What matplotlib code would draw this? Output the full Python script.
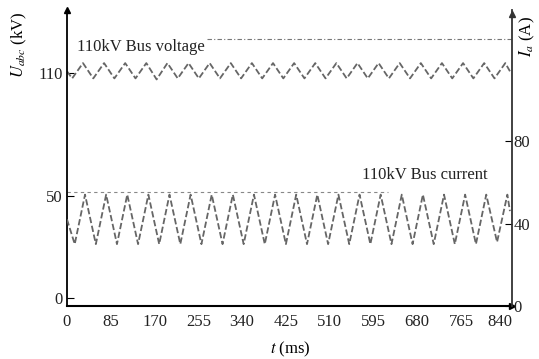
import numpy as np
import matplotlib
matplotlib.use('Agg')
from matplotlib import pyplot as plt

plt.rcParams['font.family'] = ['Liberation Serif', 'DejaVu Serif']
plt.rcParams['mathtext.fontset'] = 'stix'
plt.rcParams['font.size'] = 12

# voltage (kV) - peaks and troughs
t_volt = [0, 10, 31, 51, 72, 92, 113, 133, 154, 174, 195, 215, 236, 256, 277, 297,
          318, 338, 359, 379, 400, 420, 441, 461, 482, 502, 523, 543, 564, 584, 605,
          625, 646, 666, 687, 707, 728, 748, 769, 789, 810, 830, 851, 860]
u_volt = [111, 107.5, 115, 107.5, 115, 107.5, 115, 107.5, 115, 107, 115, 107.5, 115,
          107.5, 115, 107.5, 115, 107.5, 115, 107.5, 115, 107.5, 115, 107.5, 115, 107.5,
          115, 107.5, 115, 107.5, 115, 107.5, 115, 107.5, 115, 107.5, 115, 107.5, 115,
          107.5, 115, 107.5, 115, 111]

# current (A)
t_curr = [0, 15, 35, 56, 76, 97, 117, 138, 158, 179, 199, 220, 240, 261, 281, 302,
          322, 343, 363, 384, 404, 425, 445, 466, 486, 507, 527, 548, 568, 589, 609,
          630, 650, 671, 691, 712, 732, 753, 773, 794, 814, 835, 855, 860]
i_curr = [42, 30, 54, 30, 54, 30, 54, 30, 54, 30, 54, 30, 54, 30, 54, 30,
          54, 30, 54, 30, 54, 30, 54, 30, 54, 30, 54, 30, 54, 30, 54,
          30, 54, 30, 54, 30, 54, 30, 54, 30, 54, 31, 54, 46]

x_ticks = [0, 85, 170, 255, 340, 425, 510, 595, 680, 765, 840]
left_ticks = [0, 50, 110]
right_ticks = [0, 40, 80]

ref_low = 52     # kV, dashed line under current label
ref_high = 127   # kV, dashed line at top

fig = plt.figure(figsize=(5.39, 3.59), dpi=100)
ax = fig.add_axes([0.1243, 0.1476, 0.8256, 0.8245])
ax2 = ax.twinx()

ax.set_xlim(0, 864)
ax.set_ylim(-4, 141)
ax2.set_ylim(0, 143.5)

ax.plot(t_volt, u_volt, color='#666666', lw=1.3, ls=(0, (3.5, 1.5)))
ax2.plot(t_curr, i_curr, color='#666666', lw=1.3, ls=(0, (3.5, 1.5)))

ax.plot([0, 623], [ref_low, ref_low], color='#888888', lw=0.8, ls=(0, (3, 3)))
ax.plot([272, 864], [ref_high, ref_high], color='#777777', lw=0.8, ls=(0, (4, 2, 1, 2)))

ax.text(19, 123, '110kV Bus voltage', va='center', ha='left', color='#222222')
ax.text(573, 60, '110kV Bus current', va='center', ha='left', color='#222222')

ax.set_xticks(x_ticks)
ax.set_yticks(left_ticks)
ax2.set_yticks(right_ticks)
ax.tick_params(axis='x', length=0, pad=6, labelcolor='#222222')
ax.tick_params(axis='y', direction='in', length=5, pad=3, labelcolor='#222222')
ax2.tick_params(axis='y', direction='in', length=5, pad=1, labelcolor='#222222')

for a in (ax, ax2):
    a.spines['top'].set_visible(False)
ax.spines['right'].set_visible(False)
ax2.spines['left'].set_visible(False)
ax2.spines['bottom'].set_visible(False)
ax.spines['left'].set_linewidth(1.3)
ax.spines['bottom'].set_linewidth(1.5)
ax2.spines['right'].set_linewidth(1.3)
ax2.spines['right'].set_color('#333333')

# arrow heads on the axes
ax.plot(0, 1, '^', color='black', ms=5, transform=ax.transAxes, clip_on=False)
ax.plot(1, 0, '>', color='black', ms=5, transform=ax.transAxes, clip_on=False)
ax2.plot(1, 0.985, '^', color='#333333', ms=5, transform=ax2.transAxes, clip_on=False)

ax.set_xlabel(r'$t$ (ms)', va='center')
ax.xaxis.set_label_coords(0.501, -0.145)
ax.set_ylabel(r'$U_{abc}$ (kV)', va='center')
ax.yaxis.set_label_coords(-0.106, 0.882)
ax2.set_ylabel(r'$I_a$ (A)', va='center', rotation=90)
ax2.yaxis.set_label_coords(1.034, 0.909)

plt.savefig('out.png', dpi=100)
